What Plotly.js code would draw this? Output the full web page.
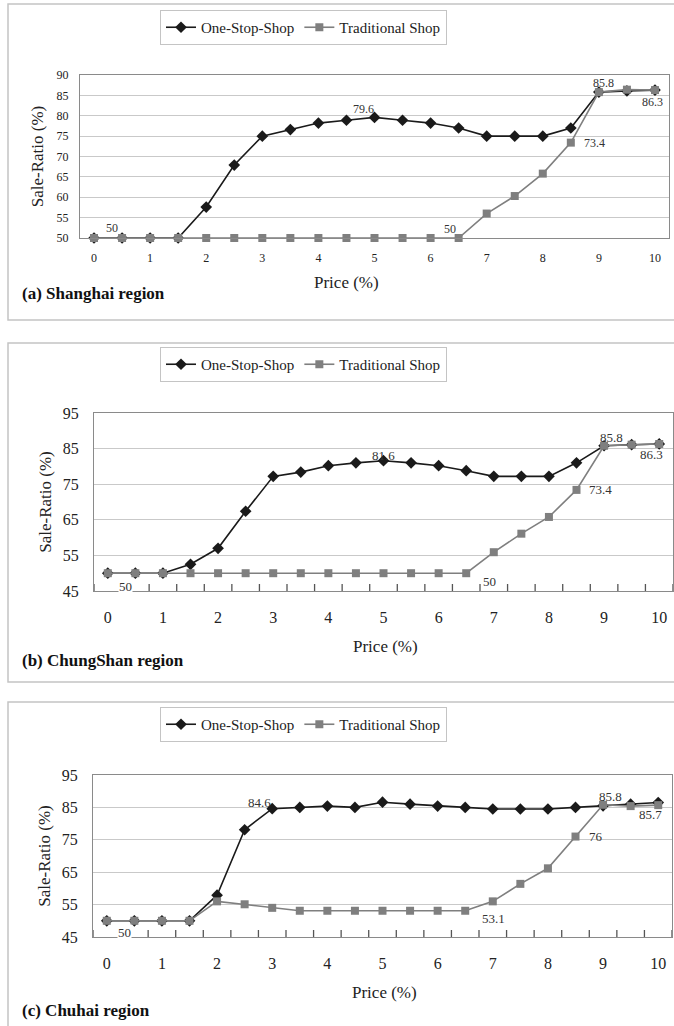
<!DOCTYPE html>
<html>
<head>
<meta charset="utf-8">
<script src="https://cdn.plot.ly/plotly-3.0.1.min.js"></script>
<style>html,body{margin:0;padding:0;background:#fff;}</style>
</head>
<body>
<div id="chart" style="width:674px;height:1026px;"></div>
<script>
// ---------- data ----------
const price = [0,0.5,1,1.5,2,2.5,3,3.5,4,4.5,5,5.5,6,6.5,7,7.5,8,8.5,9,9.5,10];
const priceTicks = [0,1,2,3,4,5,6,7,8,9,10];
const priceTickLabels = ['0','1','2','3','4','5','6','7','8','9','10'];
const seriesNames = ['One-Stop-Shop','Traditional Shop'];
const panelTitles = ['(a) Shanghai region','(b) ChungShan region','(c) Chuhai region'];

const shanghaiOneStop     = [50,50,50,50,57.6,67.9,75,76.6,78.2,78.9,79.6,78.9,78.2,77,75,75,75,77,85.8,86.1,86.3];
const shanghaiTraditional = [50,50,50,50,50,50,50,50,50,50,50,50,50,50,56,60.3,65.8,73.4,85.8,86.4,86.3];

const chungshanOneStop     = [50,50,50,52.5,57,67.4,77.2,78.4,80.2,81,81.6,81,80.2,78.8,77.2,77.2,77.2,81,85.8,86.1,86.3];
const chungshanTraditional = [50,50,50,50,50,50,50,50,50,50,50,50,50,50,55.9,61.1,65.8,73.4,85.8,86.1,86.3];

const chuhaiOneStop     = [50,50,50,50,57.9,78.1,84.6,85,85.4,85,86.6,86,85.4,85,84.5,84.5,84.5,85,85.5,86,86.5];
const chuhaiTraditional = [50,50,50,50,56,55.1,54,53.1,53.1,53.1,53.1,53.1,53.1,53.1,56,61.4,66.2,76,85.8,85.4,85.7];

// ---------- layout helpers ----------
const W = 674, H = 1026;
const px = x => x / W;
const py = y => 1 - y / H;
const FONT = 'Liberation Serif, Times New Roman, DejaVu Serif, serif';
const TXT = '#222222';
const AXC = '#8a8a8a';
const GRIDC = '#c9c9c9';
const ONEC = '#1a1a1a';
const TRADC = '#7f7f7f';

// category boundaries between price points (for the small inside tick marks)
const boundaries = [price[0] - 0.25].concat(price.map(v => v + 0.25));

const panels = [
  { one: shanghaiOneStop, trad: shanghaiTraditional, title: panelTitles[0],
    box: [4, 320], legendTop: 10, plot: [80, 669, 75, 238], yrange: [50, 90], dtick: 5,
    tickSize: 12, minor: false, xstand: 9, ystand: 8, ytstand: 8, priceX: 346, priceY: 282, titleY: 293, labSize: 12,
    labels: [ ['trad',0,18,10], ['one',10,-11,8], ['trad',13,-9,9], ['trad',17,24,0], ['one',18,5,9], ['trad',20,-2,-12] ] },
  { one: chungshanOneStop, trad: chungshanTraditional, title: panelTitles[1],
    box: [343, 682], legendTop: 347, plot: [94, 673, 413, 591], yrange: [45, 95], dtick: 10,
    tickSize: 16, minor: true, xstand: 12, ystand: 11, ytstand: 6, priceX: 385, priceY: 646, titleY: 660, labSize: 13,
    labels: [ ['trad',0,18,-13,true], ['one',10,0,5], ['trad',13,23,-8], ['trad',17,24,0], ['trad',18,7,8], ['trad',20,-8,-11] ] },
  { one: chuhaiOneStop, trad: chuhaiTraditional, title: panelTitles[2],
    box: [702, 1040], legendTop: 707, plot: [93, 672, 775, 937], yrange: [45, 95], dtick: 10,
    tickSize: 16, minor: true, xstand: 12, ystand: 11, ytstand: 6, priceX: 384, priceY: 992, titleY: 1010, labSize: 13,
    labels: [ ['trad',0,18,-12,true], ['one',6,-13,6], ['trad',13,28,-8], ['trad',17,20,0], ['trad',18,7,8], ['trad',20,-8,-9] ] }
];

const data = [];
const layout = {
  width: W, height: H,
  margin: {l:0, r:0, t:0, b:0},
  paper_bgcolor: '#ffffff', plot_bgcolor: '#ffffff',
  font: {family: FONT, color: TXT},
  shapes: [], annotations: []
};

panels.forEach((p, k) => {
  const n = k === 0 ? '' : String(k + 1);
  const xa = 'x' + n, ya = 'y' + n;
  const leg = 'legend' + n;

  data.push({
    x: price, y: p.one, xaxis: xa, yaxis: ya, name: seriesNames[0], legend: leg,
    type: 'scatter', mode: 'lines+markers', cliponaxis: false,
    line: {color: ONEC, width: 1.6},
    marker: {symbol: 'diamond', size: 9, color: ONEC}
  });
  data.push({
    x: price, y: p.trad, xaxis: xa, yaxis: ya, name: seriesNames[1], legend: leg,
    type: 'scatter', mode: 'lines+markers', cliponaxis: false,
    line: {color: TRADC, width: 1.6},
    marker: {symbol: 'square', size: 8, color: TRADC}
  });

  layout['xaxis' + n] = {
    domain: [px(p.plot[0]), px(p.plot[1])], anchor: ya,
    range: [-0.25, 10.25], tickmode: 'array', tickvals: priceTicks, ticktext: priceTickLabels,
    ticks: '', ticklabelstandoff: p.xstand,
    tickfont: {family: FONT, size: p.tickSize, color: TXT},
    showgrid: false, zeroline: false, showline: true, mirror: true, linecolor: AXC, linewidth: 1,
    fixedrange: true
  };
  layout['yaxis' + n] = {
    domain: [py(p.plot[3]), py(p.plot[2])], anchor: xa,
    range: p.yrange, tick0: p.yrange[0], dtick: p.dtick, ticks: '', ticklabelstandoff: p.ystand,
    tickfont: {family: FONT, size: p.tickSize, color: TXT},
    showgrid: true, gridcolor: GRIDC, gridwidth: 1, zeroline: false,
    showline: true, mirror: true, linecolor: AXC, linewidth: 1, fixedrange: true,
    title: {text: 'Sale-Ratio (%)', font: {family: FONT, size: 17, color: TXT}, standoff: p.ytstand}
  };
  if (p.minor) {
    // small inside tick marks at the category boundaries of the bottom axis
    boundaries.forEach(b => {
      layout.shapes.push({type: 'line', xref: xa, yref: 'paper',
        x0: b, x1: b, y0: py(p.plot[3]), y1: py(p.plot[3] - 7),
        line: {color: '#555555', width: 1.3}, layer: 'below'});
    });
  }

  layout[leg] = {
    orientation: 'h', x: px(160), xanchor: 'left', y: py(p.legendTop), yanchor: 'top',
    bgcolor: '#ffffff', bordercolor: '#c4c4c4', borderwidth: 1,
    font: {family: FONT, size: 15, color: TXT}, itemwidth: 30, traceorder: 'normal'
  };

  // outer frame of the panel
  layout.shapes.push({type: 'rect', xref: 'paper', yref: 'paper',
    x0: px(8), x1: px(690), y0: py(p.box[1]), y1: py(p.box[0]),
    line: {color: '#c4c4c4', width: 1.5}, fillcolor: 'rgba(0,0,0,0)', layer: 'below'});

  // x axis title
  layout.annotations.push({xref: 'paper', yref: 'paper', x: px(p.priceX), y: py(p.priceY),
    text: 'Price (%)', showarrow: false, xanchor: 'center', yanchor: 'middle',
    font: {family: FONT, size: 17, color: TXT}});
  // panel caption
  layout.annotations.push({xref: 'paper', yref: 'paper', x: px(20), y: py(p.titleY),
    text: '<b>' + p.title + '</b>', showarrow: false, xanchor: 'left', yanchor: 'middle',
    font: {family: FONT, size: 17, color: '#111111'}});
  // data labels
  p.labels.forEach(l => {
    const arr = l[0] === 'one' ? p.one : p.trad;
    const ann = {xref: xa, yref: ya, x: price[l[1]], y: arr[l[1]],
      text: String(arr[l[1]]), showarrow: false, xshift: l[2], yshift: l[3],
      font: {family: FONT, size: p.labSize, color: '#333333'}};
    if (l[4]) { ann.bgcolor = '#ffffff'; ann.borderpad = 0; }
    layout.annotations.push(ann);
  });
});

Plotly.newPlot('chart', data, layout, {displayModeBar: false, staticPlot: true});
</script>
</body>
</html>
